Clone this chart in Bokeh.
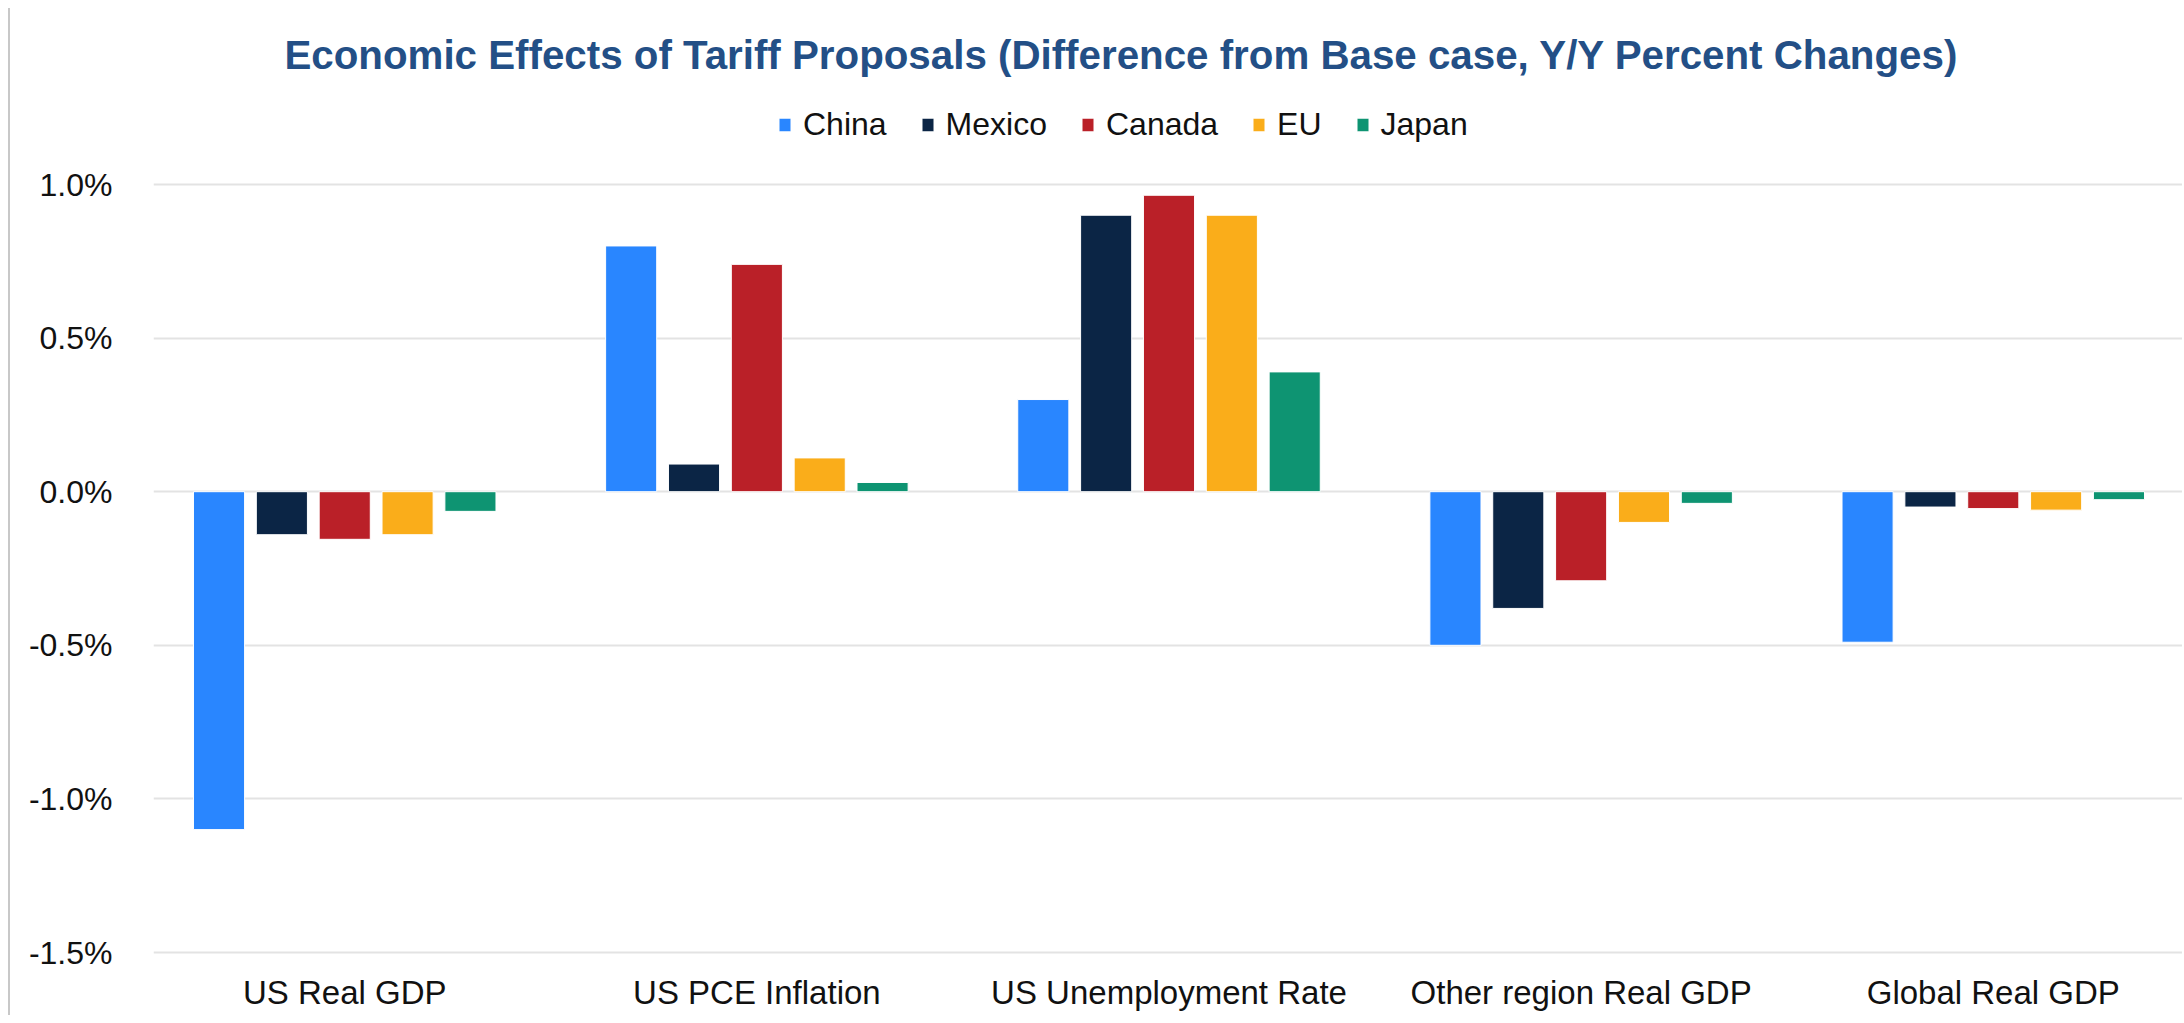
from bokeh.plotting import figure
from bokeh.models import (ColumnDataSource, FactorRange, Range1d, FixedTicker,
                          PrintfTickFormatter, Legend, LegendItem, Label)
from bokeh.core.properties import value
from bokeh.transform import dodge
from bokeh.embed import file_html
from bokeh.resources import INLINE

categories = ["US Real GDP", "US PCE Inflation", "US Unemployment Rate",
              "Other region Real GDP", "Global Real GDP"]
series = ["China", "Mexico", "Canada", "EU", "Japan"]
china = [-1.10, 0.80, 0.30, -0.50, -0.49]
mexico = [-0.14, 0.09, 0.90, -0.38, -0.05]
canada = [-0.155, 0.74, 0.965, -0.29, -0.055]
eu = [-0.14, 0.11, 0.90, -0.10, -0.06]
japan = [-0.064, 0.03, 0.39, -0.038, -0.026]
y_ticks = [-1.5, -1.0, -0.5, 0.0, 0.5, 1.0]
title_text = "Economic Effects of Tariff Proposals (Difference from Base case, Y/Y Percent Changes)"

colors = ["#2986FF", "#0B2545", "#BA2028", "#FAAD1A", "#0E9472"]

source = ColumnDataSource(dict(cat=categories, China=china, Mexico=mexico,
                               Canada=canada, EU=eu, Japan=japan))

FONT = "Liberation Sans"
H = 1007
PX = 307.2                      # pixels per 1 percentage point
Y_TOP = 1.0 + 176 / PX          # head-room above 1.0% for title & legend
Y_BOT = Y_TOP - H / PX          # room below -1.5% for category labels
CROP = 0.036                    # the chart is slightly cropped at the edges

p = figure(x_range=FactorRange(*categories, range_padding=-CROP,
                               range_padding_units="absolute"),
           y_range=Range1d(Y_BOT, Y_TOP),
           width=2174, height=H, output_backend="svg",
           toolbar_location=None,
           min_border_left=143, min_border_right=0,
           min_border_top=0, min_border_bottom=0)
p.title = None

pitch = 0.1525
bw = 0.124
items = []
for i, (s, c) in enumerate(zip(series, colors)):
    r = p.vbar(x=dodge("cat", (i - 2) * pitch, range=p.x_range), top=s,
               bottom=0, width=bw, source=source, fill_color=c,
               line_color="white", line_width=1)
    items.append(LegendItem(label=s, renderers=[r]))

# category labels under the -1.5% line
p.text(x="cat", y=Y_TOP - 984 / PX, text="cat", source=source,
       text_font=value(FONT), text_font_size="33px", text_color="#111111",
       text_align="center", text_baseline="middle")

legend = Legend(items=items, orientation="horizontal",
                location=(624, H - 134.5),
                label_text_font=FONT, label_text_font_size="32px",
                label_text_color="#111111", glyph_width=15, glyph_height=17,
                label_standoff=11, spacing=33, padding=0, margin=0,
                border_line_color=None, background_fill_alpha=0)
p.add_layout(legend, "center")

p.add_layout(Label(x=2.385, y=Y_TOP - 47 / PX, text=title_text,
                   text_font=FONT, text_font_size="40.3px",
                   text_font_style="bold", text_color="#234F86",
                   text_align="center", text_baseline="middle"))

p.xaxis.visible = False
p.xgrid.grid_line_color = None
p.ygrid.grid_line_color = "#E3E3E3"
p.ygrid.grid_line_width = 2
p.yaxis.ticker = FixedTicker(ticks=y_ticks)
p.yaxis.formatter = PrintfTickFormatter(format="%.1f%%")
p.yaxis.axis_line_color = None
p.yaxis.major_tick_line_color = None
p.yaxis.minor_tick_line_color = None
p.yaxis.major_tick_out = 0
p.yaxis.major_tick_in = 0
p.yaxis.major_label_text_font = FONT
p.yaxis.major_label_text_color = "#111111"
p.yaxis.major_label_text_font_size = "32px"
p.yaxis.major_label_standoff = 41
p.outline_line_color = None
p.styles = {"border-left": "2px solid #C8C8C8",
            "margin-left": "8px", "margin-top": "8px"}

open("out.html", "w").write(file_html(p, INLINE))
